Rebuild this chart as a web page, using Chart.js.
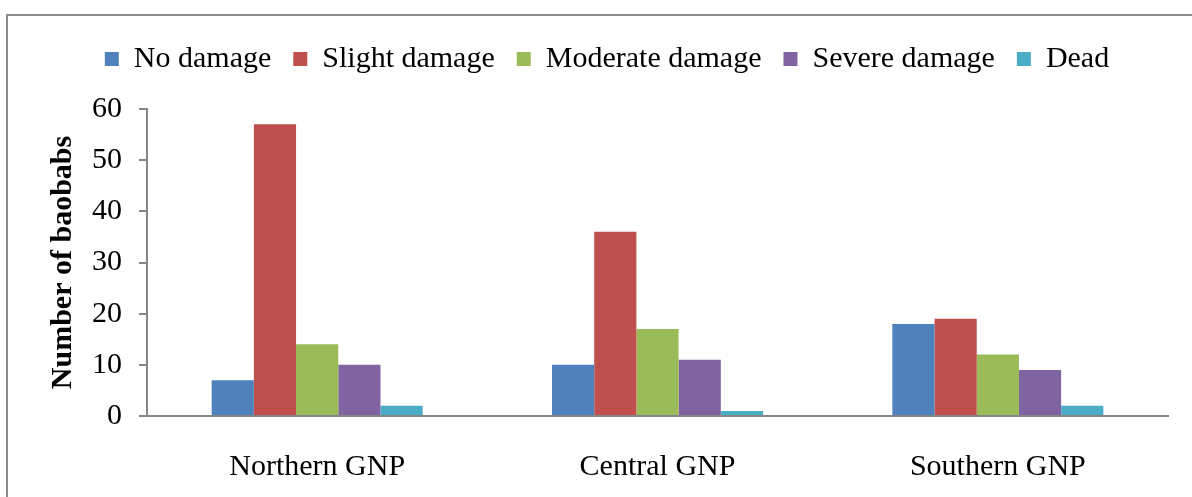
<!DOCTYPE html>
<html>
<head>
<meta charset="utf-8">
<script src="https://cdn.jsdelivr.net/npm/chart.js@4/dist/chart.umd.min.js"></script>
<style>
  html, body { margin: 0; padding: 0; background: #fff; overflow: hidden; }
  #wrap { position: relative; width: 1192px; height: 497px; }
  #frame {
    position: absolute; left: 6px; top: 14px; width: 1300px; height: 600px;
    border-top: 2px solid #8c8c8c; border-left: 2px solid #8c8c8c;
  }
  canvas { position: absolute; left: 0; top: 0; }
</style>
</head>
<body>
<div id="wrap">
  <div id="frame"></div>
  <canvas id="chart" width="1192" height="497"></canvas>
</div>
<script>
// regions along the x axis
const regions = ['Northern GNP', 'Central GNP', 'Southern GNP'];

// damage classes, one series each
const noDamage = [7, 10, 18];
const slightDamage = [57, 36, 19];
const moderateDamage = [14, 17, 12];
const severeDamage = [10, 11, 9];
const dead = [2, 1, 2];

const yTicks = [0, 10, 20, 30, 40, 50, 60];

const seriesNames = ['No damage', 'Slight damage', 'Moderate damage', 'Severe damage', 'Dead'];
const seriesValues = [noDamage, slightDamage, moderateDamage, severeDamage, dead];
const seriesColors = ['#4f81bd', '#c0504d', '#9bbb59', '#8064a2', '#4bacc6'];

const fontFamily = '"Liberation Serif", "Times New Roman", serif';
const axisGrey = '#868686';

// extra room under the legend so the plot starts lower,
// and nudge it right to sit centred on the whole frame
const legendSpacer = {
  id: 'legendSpacer',
  beforeInit(chart) {
    const originalFit = chart.legend.fit;
    chart.legend.fit = function fit() {
      originalFit.bind(chart.legend)();
      this.height += 25;
    };
  },
  afterLayout(chart) {
    chart.legend.left += 23;
    chart.legend.right += 23;
  },
};

new Chart(document.getElementById('chart'), {
  type: 'bar',
  data: {
    labels: regions,
    datasets: seriesNames.map((name, i) => ({
      label: name,
      data: seriesValues[i],
      backgroundColor: seriesColors[i],
      borderWidth: 0,
      categoryPercentage: 0.62,
      barPercentage: 1.0,
    })),
  },
  options: {
    responsive: false,
    animation: false,
    layout: { padding: { top: 22, left: 0, right: 24, bottom: 0 } },
    plugins: {
      tooltip: { enabled: false },
      legend: {
        position: 'top',
        labels: {
          color: '#000',
          font: { family: fontFamily, size: 30 },
          boxWidth: 14,
          boxHeight: 14,
          padding: 22,
        },
      },
    },
    scales: {
      x: {
        grid: { display: false, drawTicks: false },
        border: { display: true, color: axisGrey, width: 2 },
        ticks: {
          color: '#000',
          font: { family: fontFamily, size: 30 },
          padding: 33,
        },
        afterFit(scale) {
          scale.height = 81;
        },
      },
      y: {
        min: 0,
        max: 60,
        afterBuildTicks(scale) {
          scale.ticks = yTicks.map((v) => ({ value: v }));
        },
        grid: {
          display: true,
          drawOnChartArea: false,
          drawTicks: true,
          tickLength: 8,
          color: axisGrey,
          lineWidth: 2,
        },
        border: { display: true, color: axisGrey, width: 2 },
        ticks: {
          color: '#000',
          font: { family: fontFamily, size: 30 },
          padding: 17,
        },
        title: {
          display: true,
          text: 'Number of baobabs',
          color: '#000',
          font: { family: fontFamily, size: 30, weight: 'bold' },
          padding: { top: 45 },
        },
        afterFit(scale) {
          scale.width = 147;
        },
      },
    },
  },
  plugins: [legendSpacer],
});
</script>
</body>
</html>
